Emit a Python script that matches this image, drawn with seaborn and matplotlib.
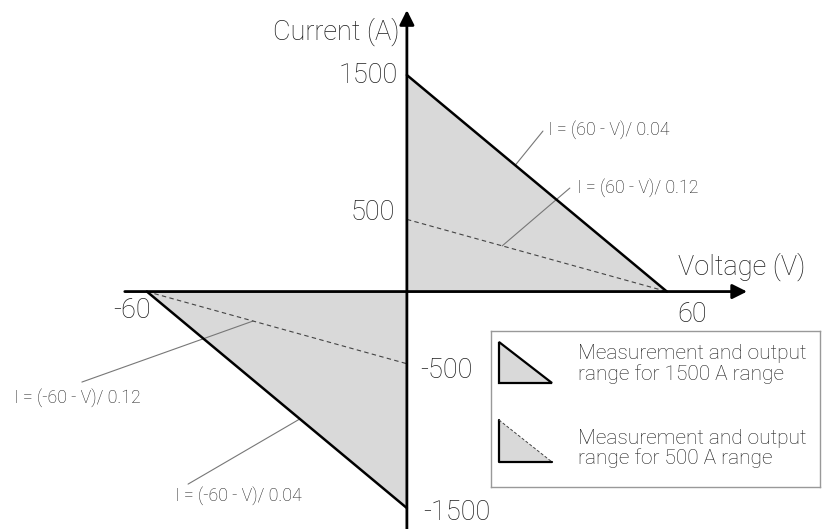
import numpy as np
import pandas as pd
import matplotlib
matplotlib.use("Agg")
import matplotlib.pyplot as plt
import seaborn as sns

# Chart values
v_limit = 60
i_range_hi = 1500
i_range_lo = 500

upper_v = [0, 60]
upper_i_1500 = [1500, 0]
upper_i_500 = [500, 0]
lower_v = [-60, 0]
lower_i_1500 = [0, -1500]
lower_i_500 = [0, -500]

eq_labels = ["I = (60 - V)/ 0.04", "I = (60 - V)/ 0.12",
             "I = (-60 - V)/ 0.12", "I = (-60 - V)/ 0.04"]
legend_labels = ["Measurement and output\nrange for 1500 A range",
                 "Measurement and output\nrange for 500 A range"]

sns.set_theme(style="white")
plt.rcParams['font.family'] = ['Roboto', 'DejaVu Sans']
txt = '#1e1e1e'
fill_c = '#d9d9d9'

fig = plt.figure(figsize=(8.22, 5.29), dpi=100)
ax = fig.add_axes([0, 0, 1, 1])
ax.axis('off')

# shaded areas
ax.fill([0, 0, upper_v[1]], [0, upper_i_1500[0], 0], color=fill_c, lw=0, zorder=1)
ax.fill([lower_v[0], 0, 0], [0, 0, lower_i_1500[1]], color=fill_c, lw=0, zorder=1)

# range boundary lines
df_up = pd.DataFrame({'V': upper_v, 'I1500': upper_i_1500, 'I500': upper_i_500})
df_lo = pd.DataFrame({'V': lower_v, 'I1500': lower_i_1500, 'I500': lower_i_500})
for d in [df_up, df_lo]:
    sns.lineplot(data=d, x='V', y='I1500', color='black', lw=1.8, ax=ax, zorder=3)
    sns.lineplot(data=d, x='V', y='I500', color='#444444', lw=0.8,
                 linestyle=(0, (4, 3)), ax=ax, zorder=3)
ax.set_xlim(-93.9, 95.8)
ax.set_ylim(-1645, 2020)

# axes with arrows
arr = dict(arrowstyle='-|>', lw=2, color='black', mutation_scale=22, shrinkA=0, shrinkB=0)
ax.annotate('', xy=(78.5, 0), xytext=(-65.1, 0), arrowprops=arr, zorder=4)
ax.annotate('', xy=(0, 1950), xytext=(0, -1645), arrowprops=arr, zorder=4)

big = dict(fontsize=19.5, color=txt, fontweight='light')
ax.text(-1.6, 1798, "Current (A)", ha='right', va='center', **big)
ax.text(62.5, 170, "Voltage (V)", ha='left', va='center', **big)
ax.text(-2.1, i_range_hi, str(i_range_hi), ha='right', va='center', **big)
ax.text(-2.8, i_range_lo + 50, str(i_range_lo), ha='right', va='center', **big)
ax.text(15.2, -i_range_lo - 44, "-" + str(i_range_lo), ha='right', va='center', **big)
ax.text(3.7, -i_range_hi - 28, "-" + str(i_range_hi), ha='left', va='center', **big)
ax.text(-v_limit - 3.5, -128, "-" + str(v_limit), ha='center', va='center', **big)
ax.text(v_limit + 5.8, -156, str(v_limit), ha='center', va='center', **big)

# equation call-outs, leader ends sit on the lines
def i_of(v, num, den):
    return (num - v) / den

small = dict(fontsize=12.8, color=txt, fontweight='light', ha='left', va='center')
lead = dict(color='#777777', lw=0.8, zorder=2)
ax.plot([25, 31.4], [i_of(25, 60, 0.04), 1112], **lead)
ax.text(32.5, 1125, eq_labels[0], **small)
ax.plot([22, 37.6], [i_of(22, 60, 0.12), 717], **lead)
ax.text(39.2, 723, eq_labels[1], **small)
ax.plot([-35.5, -75], [i_of(-35.5, -60, 0.12), -627], **lead)
ax.text(-90.7, -731, eq_labels[2], **small)
ax.plot([-24.7, -50.5], [i_of(-24.7, -60, 0.04), -1334], **lead)
ax.text(-53.5, -1416, eq_labels[3], **small)

# legend box
lax = fig.add_axes([491 / 822, 1 - 487 / 529, 329 / 822, 156 / 529])
lax.set_xlim(0, 329)
lax.set_ylim(156, 0)
lax.set_xticks([])
lax.set_yticks([])
for s in lax.spines.values():
    s.set_color('#999999')
    s.set_linewidth(1)
    s.set_visible(True)
lax.fill([8, 8, 61], [11, 52, 52], facecolor=fill_c, edgecolor='black', lw=1.6)
lax.fill([8, 8, 61], [89, 131, 131], facecolor=fill_c, lw=0)
lax.plot([8, 8, 61], [89, 131, 131], color='black', lw=1.6)
lax.plot([8, 61], [89, 131], color='#444444', lw=0.7, linestyle=(0, (3, 2)))
lax.text(87, 33, legend_labels[0], ha='left', va='center', fontsize=15,
         color=txt, fontweight='light', linespacing=1.05)
lax.text(87, 117.5, legend_labels[1], ha='left', va='center', fontsize=15,
         color=txt, fontweight='light', linespacing=1.05)

fig.savefig('out.png', dpi=100)
